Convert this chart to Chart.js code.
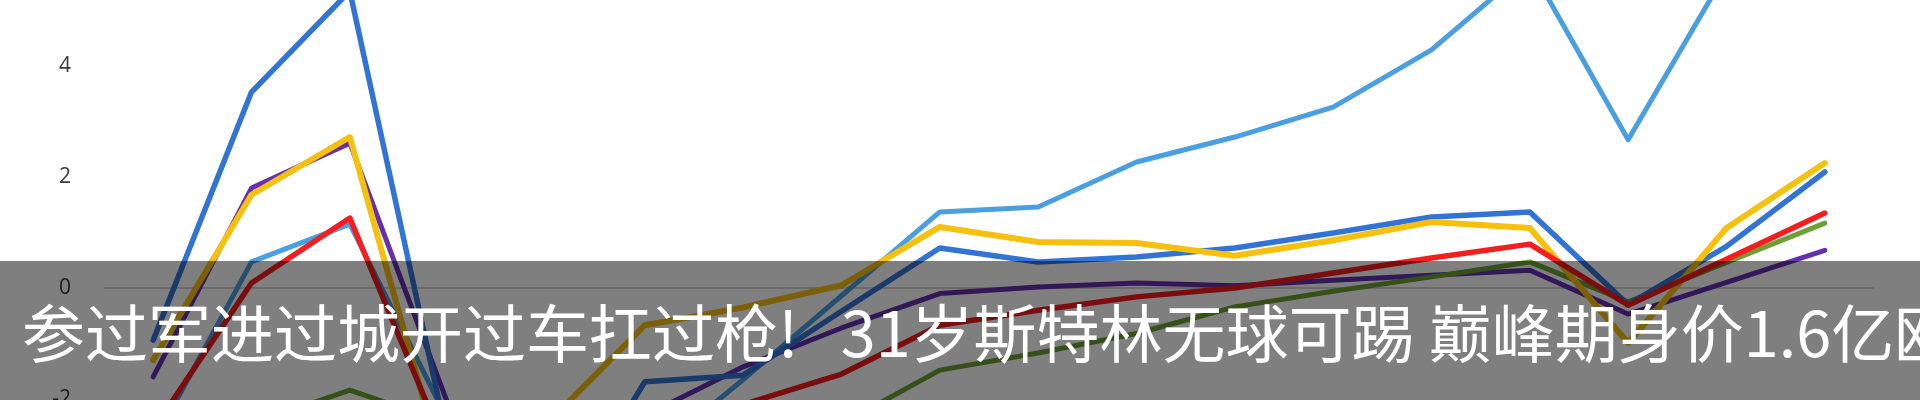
<!DOCTYPE html>
<html lang="zh-CN">
<head>
<meta charset="utf-8">
<script src="https://cdn.jsdelivr.net/npm/chart.js@4.4.1/dist/chart.umd.min.js"></script>
<style>
  html, body { margin: 0; padding: 0; background: #fff; }
  #wrap { width: 1920px; height: 400px; position: relative; }
</style>
</head>
<body>
<div id="wrap"><canvas id="chart"></canvas></div>
<script>
// x labels are cut off in the picture, so plain round numbers
const labels = ["1", "2", "3", "4", "5", "6", "7", "8", "9", "10", "11", "12", "13", "14", "15", "16", "17", "18"];
const yTicks = [-2, 0, 2, 4];

const lightBlue  = [-2.8, 0.47, 1.15, -2.4, -3.0, -3.1, -1.65, -0.14, 1.37, 1.46, 2.27, 2.72, 3.26, 4.29, 5.8, 2.67, 5.7, 6.2];
const mediumBlue = [-0.94, 3.53, 5.35, -2.8, -4.6, -1.69, -1.57, -0.42, 0.72, 0.47, 0.56, 0.72, 0.99, 1.28, 1.37, -0.3, 0.75, 2.09];
const yellow     = [-1.3, 1.68, 2.72, -3.6, -2.45, -0.67, -0.35, 0.05, 1.10, 0.83, 0.81, 0.58, 0.86, 1.19, 1.08, -0.99, 1.08, 2.25];
const red        = [-2.55, 0.09, 1.26, -3.0, -3.2, -2.6, -2.1, -1.55, -0.67, -0.4, -0.16, 0.0, 0.27, 0.54, 0.79, -0.31, 0.52, 1.35];
const purple     = [-1.6, 1.8, 2.61, -2.1, -2.6, -2.3, -1.42, -0.72, -0.1, 0.02, 0.09, 0.04, 0.14, 0.23, 0.32, -0.47, 0.1, 0.68];
const green      = [-2.8, -2.45, -1.84, -2.45, -2.8, -3.0, -2.9, -2.45, -1.48, -1.17, -0.82, -0.34, -0.06, 0.2, 0.47, -0.25, 0.46, 1.17];

const caption = "参过军进过城开过车扛过枪!   31岁斯特林无球可踢 巅峰期身价1.6亿欧";

// grey band with the subtitle over the lower part
const captionBand = {
    id: "captionBand",
    afterDraw(chart) {
        const ctx = chart.ctx;
        ctx.save();
        ctx.fillStyle = "rgba(0, 0, 0, 0.5)";
        ctx.fillRect(0, 261, chart.width, chart.height - 261);
        ctx.fillStyle = "#ffffff";
        ctx.font = '63px "Noto Sans CJK SC"';
        ctx.textBaseline = "alphabetic";
        ctx.fillText(caption, 22, 357);
        ctx.restore();
    },
};

const line = (data, color, width) => ({
    data,
    borderColor: color,
    borderWidth: width,
    pointRadius: 0,
    tension: 0,
    fill: false,
    borderJoinStyle: "round",
    borderCapStyle: "round",
});

new Chart(document.getElementById("chart"), {
    type: "line",
    data: {
        labels,
        // first dataset is drawn on top
        datasets: [
            line(red, "#f51d1d", 5.5),
            line(yellow, "#f6c00e", 6),
            line(mediumBlue, "#3274d6", 5.5),
            line(green, "#6ca033", 5),
            line(purple, "#6530b0", 5),
            line(lightBlue, "#4a9fe2", 5),
        ],
    },
    options: {
        responsive: true,
        maintainAspectRatio: false,
        animation: false,
        layout: { padding: { left: 0, right: 46, top: 0, bottom: 0 } },
        plugins: {
            legend: { display: false },
            tooltip: { enabled: false },
        },
        scales: {
            x: {
                display: false,
                offset: true,
            },
            y: {
                min: -2.018,
                max: 5.189,
                afterBuildTicks: (scale) => {
                    scale.ticks = yTicks.map((v) => ({ value: v }));
                },
                afterFit: (scale) => {
                    scale.width = 104;
                    scale.paddingTop = 0;
                    scale.paddingBottom = 0;
                },
                border: { display: false },
                grid: {
                    drawTicks: false,
                    lineWidth: 2,
                    color: (c) => (c.tick && c.tick.value === 0 ? "#d4d4d4" : "rgba(0,0,0,0)"),
                },
                ticks: {
                    padding: 33,
                    color: "#3a3a3a",
                    font: { family: "Open Sans", size: 21 },
                },
            },
        },
    },
    plugins: [captionBand],
});
</script>
</body>
</html>
